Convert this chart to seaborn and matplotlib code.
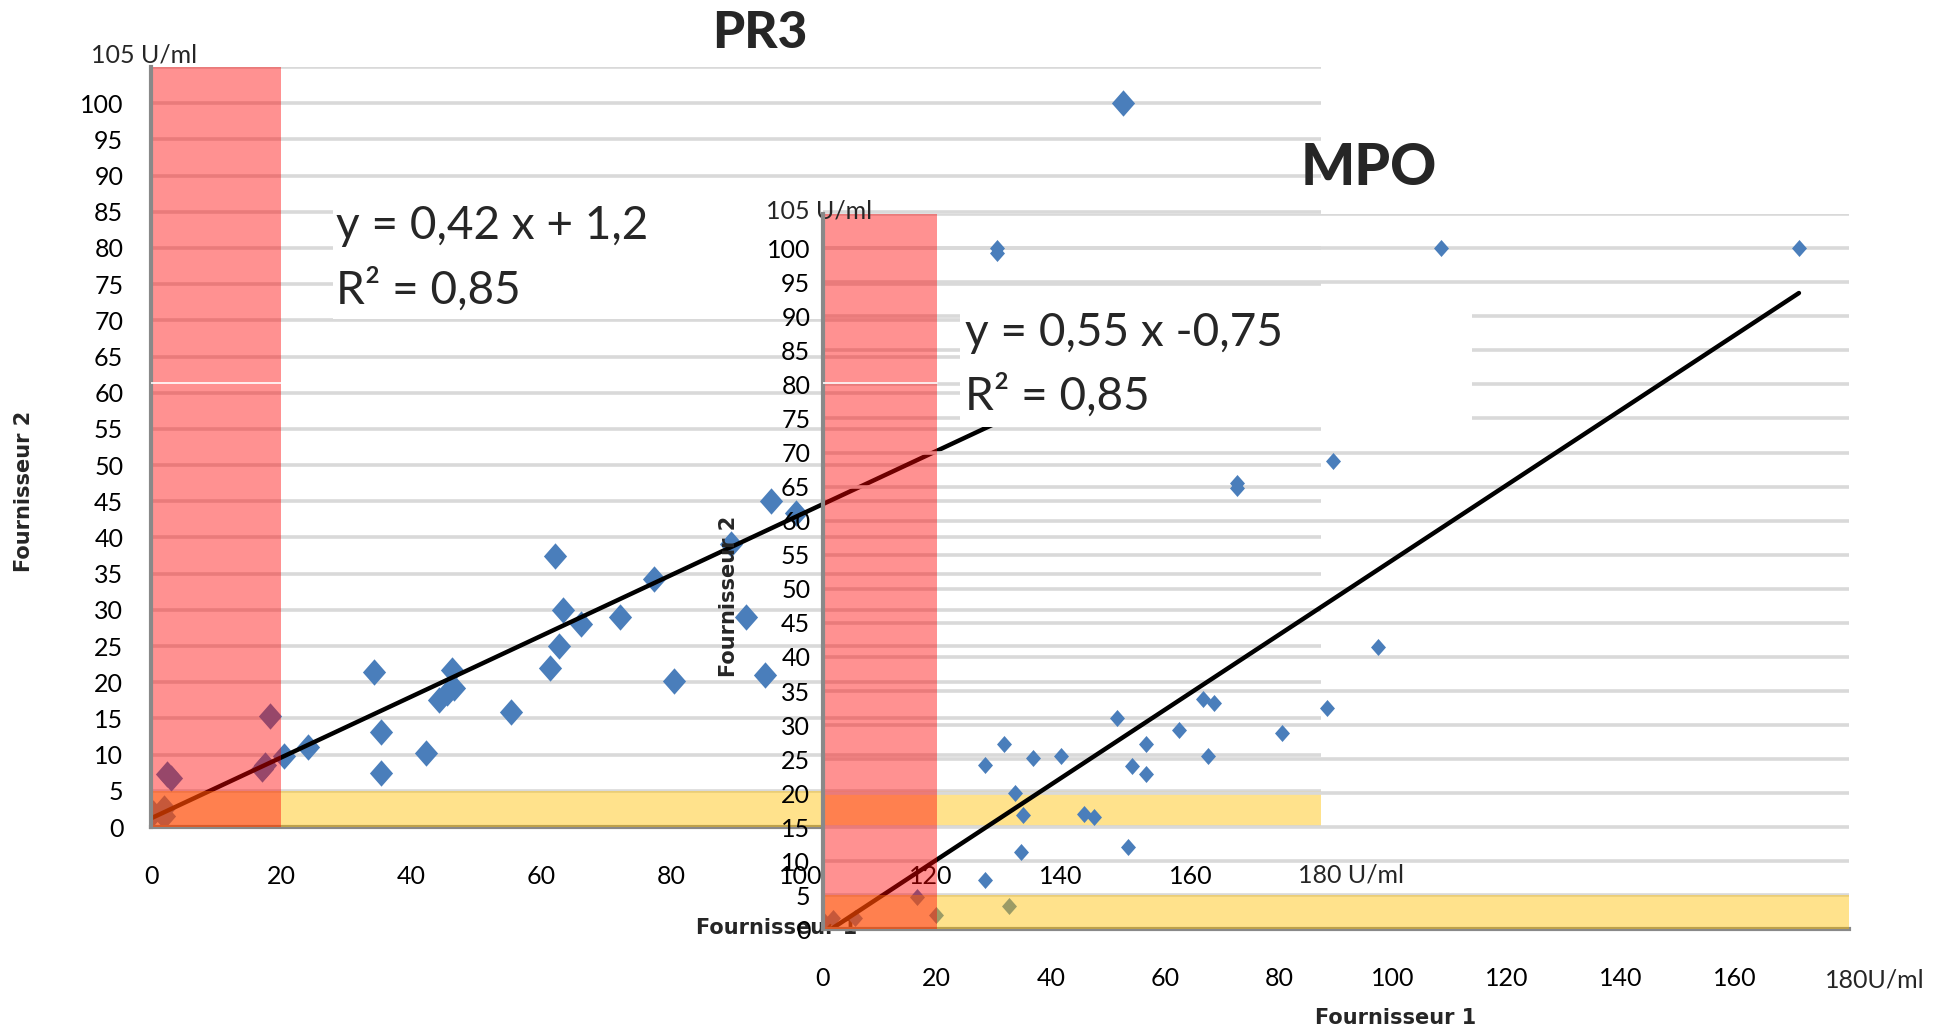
import numpy as np
import pandas as pd
import matplotlib.pyplot as plt
from matplotlib.path import Path
from matplotlib.patches import Rectangle
import seaborn as sns

sns.set_theme(style="white")
plt.rcParams['font.family'] = ['Lato', 'DejaVu Sans']

# --- data PR3 (Fournisseur 1 vs Fournisseur 2, U/ml)
pr3_f1 = [0.3, 2, 2, 2.5, 3, 17, 17.5, 18.3, 20.4, 24.2, 34.3, 35.3, 35.3, 42.3,
          44.3, 45.5, 46.3, 46.6, 55.3, 61.4, 62.2, 62.8, 63.3, 66.2, 72.2, 77.3,
          80.4, 89.2, 91.6, 94.4, 95.4, 99.2, 149.5]
pr3_f2 = [1.9, 2.6, 1.5, 7.3, 6.8, 8, 8.5, 15.3, 9.8, 11, 21.4, 13.1, 7.4, 10.2,
          17.6, 18.5, 21.7, 19.2, 15.9, 21.9, 37.4, 25, 30, 28.1, 29, 34.3,
          20.2, 39.1, 29, 21, 45, 43.4, 100]
pr3_slope, pr3_intercept = 0.42, 1.2
pr3_eq = ["y = 0,42 x + 1,2", "R² = 0,85"]

# --- data MPO
mpo_f1 = [0.3, 1.8, 5.6, 16.6, 19.8, 32.6, 28.5, 34.8, 35.2, 33.8, 28.5, 31.7,
          36.8, 41.7, 45.9, 47.6, 51.6, 53.6, 54.3, 56.6, 56.6, 62.5, 66.7, 68.6,
          67.5, 80.5, 88.5, 97.4, 89.5, 72.7, 72.7, 30.5, 30.5, 108.4, 171.2]
mpo_f2 = [1.2, 1.7, 1.7, 4.8, 2.1, 3.5, 7.3, 11.4, 16.8, 20, 24.2, 27.2,
          25.2, 25.5, 17, 16.5, 31.1, 12.1, 24, 22.8, 27.2, 29.3, 33.8, 33.2,
          25.4, 28.9, 32.5, 41.5, 68.8, 65.6, 64.8, 100, 99.3, 100, 100]
mpo_slope, mpo_intercept = 0.55, -0.75
mpo_eq = ["y = 0,55 x -0,75", "R² = 0,85"]

x_ticks = [0, 20, 40, 60, 80, 100, 120, 140, 160]
y_ticks = list(range(0, 106, 5))
y_labels = [str(v) for v in range(0, 101, 5)] + [""]

pr3 = pd.DataFrame({"f1": pr3_f1, "f2": pr3_f2})
mpo = pd.DataFrame({"f1": mpo_f1, "f2": mpo_f2})

blue = "#4A7EBB"
grid_col = "#D9D9D9"
spine_col = "#898989"
diamond = Path([(0, 1), (0.88, 0), (0, -1), (-0.88, 0), (0, 1)],
               [Path.MOVETO, Path.LINETO, Path.LINETO, Path.LINETO, Path.CLOSEPOLY])
lab_font = dict(family=['DejaVu Sans'], fontweight='bold', fontsize=15)

fig = plt.figure(figsize=(19.52, 10.29), dpi=100)
ax1 = fig.add_axes([0.0774, 0.1963, 0.5994, 0.7386])
ax2 = fig.add_axes([0.4215, 0.0967, 0.5258, 0.6953])
ax2.patch.set_visible(False)


def style_axes(ax, ypad):
    ax.set_xlim(0, 180)
    ax.set_ylim(0, 105)
    ax.set_xticks(x_ticks)
    ax.set_xticklabels([str(v) for v in x_ticks])
    ax.set_yticks(y_ticks)
    ax.set_yticklabels(y_labels)
    ax.tick_params(axis='x', length=0, pad=27, labelsize=18, colors='black')
    ax.tick_params(axis='y', length=0, pad=ypad, labelsize=18, colors='black')
    ax.set_axisbelow(True)
    ax.grid(axis='y', color=grid_col, linewidth=2.6)
    ax.grid(axis='x', visible=False)
    for s in ['top', 'right']:
        ax.spines[s].set_visible(False)
    for s in ['left', 'bottom']:
        ax.spines[s].set_color(spine_col)
        ax.spines[s].set_linewidth(3)
    ax.spines['left'].set_zorder(3.5)


# ===== PR3 =====
style_axes(ax1, 20)
ax1.spines['bottom'].set_bounds(0, 103.3)
sns.scatterplot(data=pr3, x="f1", y="f2", ax=ax1, marker=diamond, s=360,
                color=blue, linewidth=0, zorder=2, legend=False)
xl = np.array([0, 150])
sns.lineplot(x=xl, y=pr3_slope * xl + pr3_intercept, ax=ax1, color='black',
             linewidth=3.2, zorder=2.5)
ax1.axhspan(0, 5, color='#FFC000', alpha=0.45, lw=0, zorder=3)
ax1.axvspan(0, 20, color='#FF0000', alpha=0.43, lw=0, zorder=3)
ax1.plot([0, 20], [61.3, 61.3], color='white', lw=1.2, zorder=3.6)
ax1.add_patch(Rectangle((28, 70.25), 75.3, 17.8, facecolor='white',
                        edgecolor='none', zorder=4))
ax1.text(28.5, 83, pr3_eq[0], fontsize=33, va='center', zorder=5)
ax1.text(28.5, 74.2, pr3_eq[1], fontsize=33, va='center', zorder=5)
ax1.text(-1.15, 106.7, "105 U/ml", fontsize=18, ha='center', va='center', clip_on=False)
ax1.text(176.5, -6.6, "180 U/ml", fontsize=18, ha='left', va='center', clip_on=False)
ax1.text(0.52, 1.044, "PR3", transform=ax1.transAxes, fontsize=37,
         fontweight='black', ha='center', va='center')
ax1.set_xlabel("Fournisseur 1", **lab_font)
ax1.set_ylabel("Fournisseur 2", **lab_font)
ax1.xaxis.set_label_coords(0.535, -0.133)
ax1.yaxis.set_label_coords(-0.1085, 0.441)
ax1.xaxis.label.set_va('center')
ax1.yaxis.label.set_va('center')

# ===== MPO =====
style_axes(ax2, 9)
sns.scatterplot(data=mpo, x="f1", y="f2", ax=ax2, marker=diamond, s=150,
                color=blue, linewidth=0, zorder=2, legend=False)
xm = np.array([0, 171.2])
sns.lineplot(x=xm, y=mpo_slope * xm + mpo_intercept, ax=ax2, color='black',
             linewidth=3.2, zorder=2.5)
ax2.axhspan(0, 5, color='#FFC000', alpha=0.45, lw=0, zorder=3)
ax2.axvspan(0, 20, color='#FF0000', alpha=0.43, lw=0, zorder=3)
ax2.plot([0, 20], [80.2, 80.2], color='white', lw=1.2, zorder=3.6)
ax2.add_patch(Rectangle((24, 73.8), 89.8, 17.7, facecolor='white',
                        edgecolor='none', zorder=4))
ax2.text(24.9, 87.6, mpo_eq[0], fontsize=33, va='center', zorder=5)
ax2.text(24.9, 78.4, mpo_eq[1], fontsize=33, va='center', zorder=5)
ax2.text(-0.6, 105.5, "105 U/ml", fontsize=18, ha='center', va='center', clip_on=False)
ax2.text(175.7, -7.4, "180U/ml", fontsize=18, ha='left', va='center', clip_on=False)
ax2.text(0.532, 1.064, "MPO", transform=ax2.transAxes, fontsize=41,
         fontweight='black', ha='center', va='center')
ax2.set_xlabel("Fournisseur 1", **lab_font)
ax2.set_ylabel("Fournisseur 2", **lab_font)
ax2.xaxis.set_label_coords(0.558, -0.124)
ax2.yaxis.set_label_coords(-0.0913, 0.465)
ax2.xaxis.label.set_va('center')
ax2.yaxis.label.set_va('center')

fig.savefig("out.png", dpi=100, facecolor='white')
